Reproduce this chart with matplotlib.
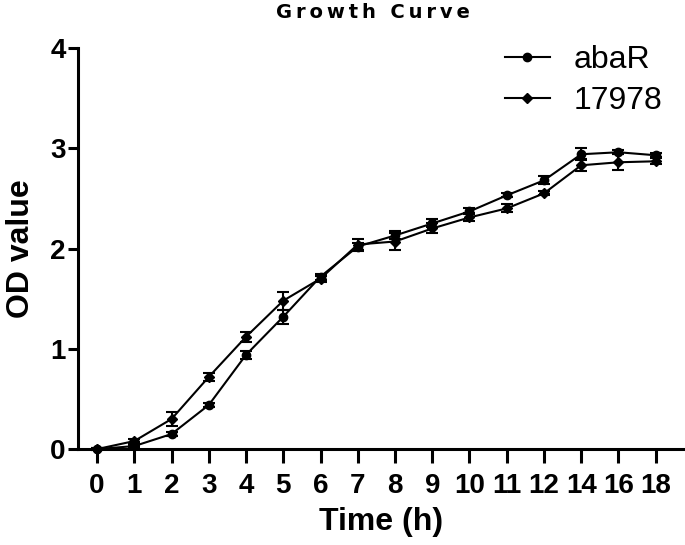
import numpy as np
import matplotlib.pyplot as plt
from matplotlib.lines import Line2D

plt.rcParams["font.family"] = ["Liberation Sans", "DejaVu Sans"]

# Time points (h) - plotted as equally spaced categories
time_labels = ["0", "1", "2", "3", "4", "5", "6", "7", "8", "9",
               "10", "11", "12", "14", "16", "18"]

# OD values
abar_mean = [0.00, 0.03, 0.15, 0.44, 0.94, 1.32, 1.72, 2.02, 2.13, 2.25,
             2.37, 2.53, 2.68, 2.94, 2.96, 2.93]
abar_err = [0.01, 0.01, 0.02, 0.02, 0.04, 0.07, 0.03, 0.04, 0.04, 0.04,
            0.03, 0.02, 0.04, 0.06, 0.02, 0.02]
strain_mean = [0.00, 0.08, 0.30, 0.72, 1.12, 1.48, 1.70, 2.04, 2.07, 2.20,
               2.31, 2.40, 2.55, 2.83, 2.86, 2.87]
strain_err = [0.01, 0.02, 0.07, 0.04, 0.05, 0.09, 0.03, 0.05, 0.08, 0.05,
              0.04, 0.04, 0.02, 0.06, 0.08, 0.03]

x = np.arange(len(time_labels))

fig = plt.figure(figsize=(6.85, 5.45), dpi=100)
ax = fig.add_axes([0.114, 0.176, 0.884, 0.736])

ax.errorbar(x, abar_mean, yerr=abar_err, color="black", marker="o",
            markersize=6, linewidth=1.5, capsize=4, capthick=1.5,
            elinewidth=1.5, clip_on=False, zorder=3)
ax.errorbar(x, strain_mean, yerr=strain_err, color="black", marker="D",
            markersize=5.5, linewidth=1.5, capsize=4, capthick=1.5,
            elinewidth=1.5, clip_on=False, zorder=3)

ax.set_xlim(-0.51, 15.75)
ax.set_ylim(0, 4)
ax.set_xticks(x)
ax.set_xticklabels(time_labels, fontsize=20, fontweight="bold")
ax.set_yticks([0, 1, 2, 3, 4])
ax.set_yticklabels(["0", "1", "2", "3", "4"], fontsize=20, fontweight="bold")

for side in ["top", "right"]:
    ax.spines[side].set_visible(False)
for side in ["left", "bottom"]:
    ax.spines[side].set_linewidth(2.2)
ax.tick_params(axis="y", length=7, width=2.2, pad=2)
ax.tick_params(axis="x", length=10, width=2.2, pad=7)

ax.set_xlabel("Time (h)", fontsize=23, fontweight="bold", labelpad=6)
ax.set_ylabel("OD value", fontsize=23, fontweight="bold", labelpad=10)

fig.text(0.545, 0.977, "\u2009".join("Growth Curve"), fontsize=14,
         fontweight="bold", family="DejaVu Sans", ha="center", va="center")

handles = [
    Line2D([], [], color="black", marker="o", markersize=6, linewidth=1.5),
    Line2D([], [], color="black", marker="D", markersize=5.5, linewidth=1.5),
]
fig.legend(handles, ["abaR", "17978"], loc="upper left",
           bbox_to_anchor=(505 / 685, 1 - 45 / 545), frameon=False,
           fontsize=23, handlelength=1.4, handletextpad=0.75,
           labelspacing=0.35, borderpad=0.0, borderaxespad=0.0)

fig.savefig("out.png", dpi=100)
